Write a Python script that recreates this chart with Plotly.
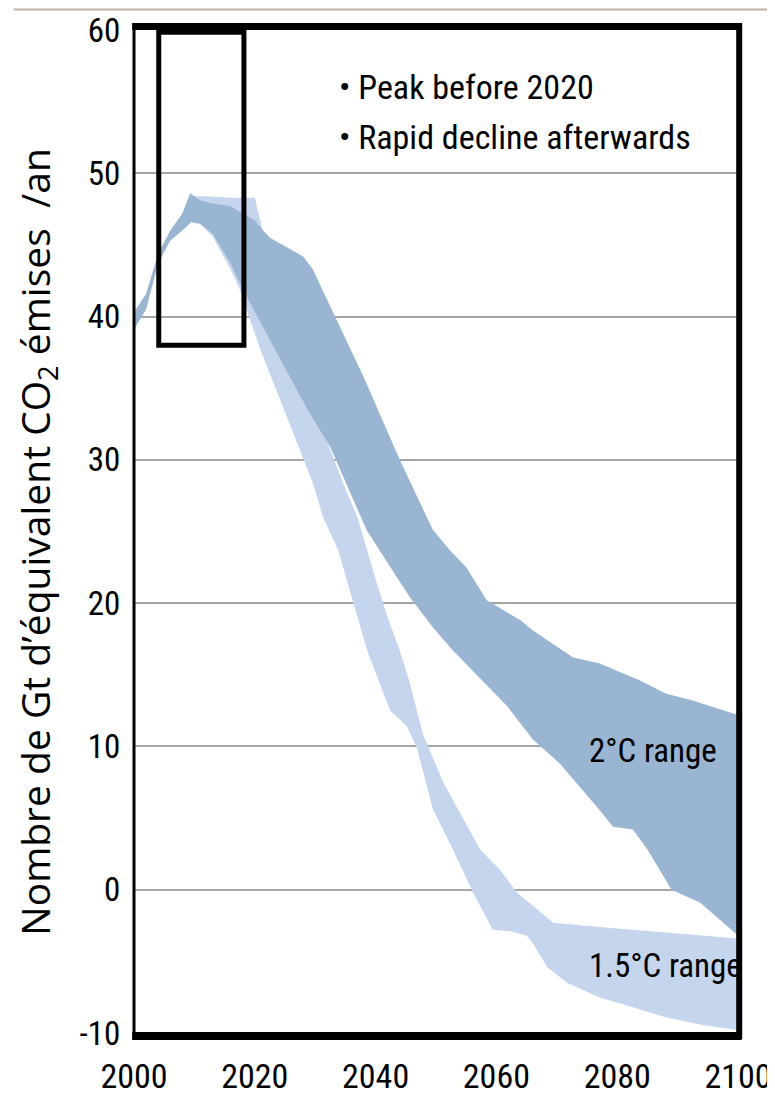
import plotly.graph_objects as go

# ---- data ----
yr_2c_upper = [2000, 2002, 2004, 2006, 2008, 2009.3, 2011, 2013, 2016, 2018, 2020, 2021.4, 2022.5,
               2028, 2029.6, 2032.5, 2038, 2044, 2049.5, 2052.3, 2055, 2058.4, 2064, 2066, 2072.7,
               2077, 2083.8, 2088, 2092.5, 2100]
val_2c_upper = [40.3, 41.6, 44.4, 46.0, 47.2, 48.6, 48.1, 47.9, 47.7, 47.2, 46.7, 46.0, 45.5,
                44.2, 43.3, 40.7, 35.8, 30.0, 25.1, 23.7, 22.5, 20.2, 18.8, 18.1, 16.2,
                15.8, 14.6, 13.7, 13.2, 12.2]
yr_2c_lower = [2000, 2002, 2004, 2006, 2008, 2009.5, 2011, 2013, 2016, 2018, 2019.5, 2024, 2029,
               2032.5, 2038.5, 2042, 2045.7, 2049.5, 2052.8, 2056, 2061.8, 2066, 2070.5, 2077,
               2079.3, 2082.6, 2085, 2089, 2093.7, 2100]
val_2c_lower = [39.1, 40.5, 43.7, 45.3, 46.0, 46.6, 46.5, 45.8, 43.7, 41.9, 40.7, 37.2, 33.3,
                30.9, 25.1, 22.8, 20.4, 18.3, 16.7, 15.3, 12.8, 10.5, 8.8, 5.6,
                4.4, 4.2, 2.8, 0.0, -0.9, -3.2]

yr_15_upper = [2009.5, 2012, 2016, 2020, 2021.2, 2025, 2030, 2034.6, 2037, 2040.2, 2042, 2044,
               2045.7, 2047.8, 2051.2, 2057.3, 2060.6, 2063.4, 2069.4, 2077, 2100]
val_15_upper = [48.4, 48.4, 48.3, 48.3, 46.2, 40.0, 33.5, 28.4, 26.0, 21.4, 19.0, 16.7,
                14.4, 10.9, 7.5, 2.8, 1.4, -0.2, -2.3, -2.6, -3.4]
yr_15_lower = [2009.5, 2011, 2013, 2016, 2017.5, 2020.9, 2025.3, 2029.6, 2031.3, 2033.8, 2035.3,
               2038.6, 2042.4, 2045.2, 2046.9, 2049.5, 2052.8, 2056.1, 2059.4, 2062.3, 2065,
               2066, 2068.4, 2071.7, 2077, 2082.6, 2088, 2093.7, 2100]
val_15_lower = [46.6, 46.4, 45.6, 43.3, 41.9, 37.7, 33.0, 28.4, 26.0, 23.7, 21.4,
                16.7, 12.5, 11.4, 9.8, 5.6, 2.8, -0.2, -2.8, -2.9, -3.2,
                -3.7, -5.4, -6.5, -7.5, -8.2, -8.9, -9.4, -9.8]

x_ticks = [2000, 2020, 2040, 2060, 2080, 2100]
y_ticks = [-10, 0, 10, 20, 30, 40, 50, 60]
box_years = [2004.1, 2018.2]
box_vals = [38.0, 59.85]

label_2c = "2°C range"
label_15 = "1.5°C range"
bullets = ["• Peak before 2020", "• Rapid decline afterwards"]
y_title = "Nombre de Gt d’équivalent CO<sub>2</sub> émises  /an"

NARROW = "Roboto Condensed, Liberation Sans Narrow, Roboto, sans-serif"

fig = go.Figure()

fig.add_trace(go.Scatter(
    x=yr_15_upper + yr_15_lower[::-1],
    y=val_15_upper + val_15_lower[::-1],
    fill="toself", mode="lines", line=dict(width=0),
    fillcolor="#C6D5EE", hoverinfo="skip", showlegend=False))

fig.add_trace(go.Scatter(
    x=yr_2c_upper + yr_2c_lower[::-1],
    y=val_2c_upper + val_2c_lower[::-1],
    fill="toself", mode="lines", line=dict(width=0),
    fillcolor="#9AB5D2", hoverinfo="skip", showlegend=False))

shapes = [
    # frame
    dict(type="line", xref="paper", yref="paper", x0=-0.003, x1=1.006, y0=1.0035, y1=1.0035,
         line=dict(color="black", width=7)),
    dict(type="line", xref="paper", yref="paper", x0=-0.003, x1=1.006, y0=-0.003, y1=-0.003,
         line=dict(color="black", width=8)),
    dict(type="line", xref="paper", yref="paper", x0=1.002, x1=1.002, y0=-0.006, y1=1.007,
         line=dict(color="black", width=6)),
    dict(type="line", xref="paper", yref="paper", x0=0, x1=0, y0=-0.006, y1=1.007,
         line=dict(color="black", width=3)),
    # top decorative line
    dict(type="line", xref="paper", yref="paper", x0=-0.199, x1=1.07, y0=1.0205, y1=1.0205,
         line=dict(color="#BEB19F", width=2)),
    # highlight box
    dict(type="rect", xref="x", yref="y", x0=box_years[0], x1=box_years[1],
         y0=box_vals[0], y1=box_vals[1], line=dict(color="black", width=5)),
]

annotations = [
    dict(x=2033.6, y=56.0, xref="x", yref="y", text=bullets[0], showarrow=False,
         xanchor="left", yanchor="middle", font=dict(family=NARROW, size=34, color="black")),
    dict(x=2033.6, y=52.5, xref="x", yref="y", text=bullets[1], showarrow=False,
         xanchor="left", yanchor="middle", font=dict(family=NARROW, size=34, color="black")),
    dict(x=2075.0, y=9.7, xref="x", yref="y", text=label_2c, showarrow=False,
         xanchor="left", yanchor="middle", font=dict(family=NARROW, size=33, color="black")),
    dict(x=2075.0, y=-5.3, xref="x", yref="y", text=label_15, showarrow=False,
         xanchor="left", yanchor="middle", font=dict(family=NARROW, size=33, color="black")),
    dict(x=-0.162, y=0.49, xref="paper", yref="paper", text=y_title, showarrow=False,
         textangle=-90, xanchor="center", yanchor="middle",
         font=dict(family="Open Sans, Noto Sans, sans-serif", size=39, color="black")),
]

# The page body has an 8px margin, so the figure is 16px smaller and offset accordingly.
fig.update_layout(
    width=759, height=1094,
    margin=dict(l=126, r=29, t=22, b=69, autoexpand=False),
    paper_bgcolor="white", plot_bgcolor="white",
    shapes=shapes, annotations=annotations,
    showlegend=False,
    xaxis=dict(range=[2000, 2100], tickvals=x_ticks, ticktext=[str(v) for v in x_ticks],
               showgrid=False, zeroline=False, showline=False, automargin=False,
               ticklabeloverflow="allow",
               ticks="outside", ticklen=13, tickcolor="rgba(0,0,0,0)",
               tickfont=dict(family=NARROW, size=34, color="black")),
    yaxis=dict(range=[-10, 60], tickvals=y_ticks, ticktext=[str(v) for v in y_ticks],
               showgrid=True, gridcolor="#A6A6A6", gridwidth=2, zeroline=False, showline=False,
               automargin=False, ticklabeloverflow="allow",
               ticks="outside", ticklen=6, tickcolor="rgba(0,0,0,0)",
               tickfont=dict(family=NARROW, size=33, color="black")),
)

fig.write_html("out.html")
